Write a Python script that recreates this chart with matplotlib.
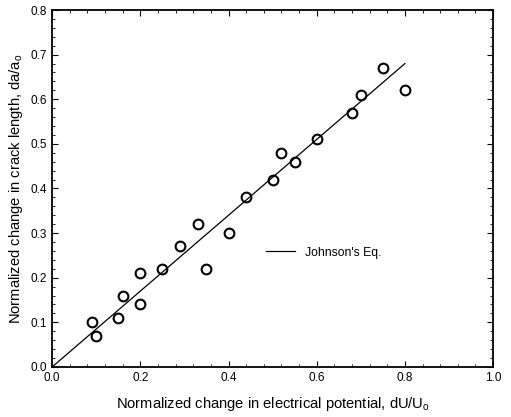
import matplotlib
matplotlib.use('Agg')
import matplotlib.pyplot as plt
from matplotlib.ticker import MultipleLocator

plt.rcParams['font.family'] = ['Liberation Sans', 'DejaVu Sans']
plt.rcParams['mathtext.fontset'] = 'custom'
plt.rcParams['mathtext.rm'] = 'Liberation Sans'

# measured points
du = [0.09, 0.10, 0.15, 0.16, 0.20, 0.20, 0.25, 0.29, 0.33, 0.35,
      0.40, 0.44, 0.50, 0.52, 0.55, 0.60, 0.68, 0.70, 0.75, 0.80]
da = [0.10, 0.07, 0.11, 0.16, 0.21, 0.14, 0.22, 0.27, 0.32, 0.22,
      0.30, 0.38, 0.42, 0.48, 0.46, 0.51, 0.57, 0.61, 0.67, 0.62]

# Johnson's equation line
eq_x = [0.0, 0.80]
eq_y = [0.0, 0.68]

fig = plt.figure(figsize=(5.11, 4.17), dpi=100)
ax = fig.add_axes([0.102, 0.12, 0.863, 0.856])

line, = ax.plot(eq_x, eq_y, color='black', lw=0.9, label="Johnson's Eq.")
ax.plot(du, da, 'o', mfc='none', mec='black', mew=1.5, ms=7)

ax.set_xlim(0, 1.0)
ax.set_ylim(0, 0.8)
ax.xaxis.set_major_locator(MultipleLocator(0.2))
ax.yaxis.set_major_locator(MultipleLocator(0.1))
ax.xaxis.set_minor_locator(MultipleLocator(0.04))
ax.yaxis.set_minor_locator(MultipleLocator(0.02))
ax.xaxis.set_major_formatter(plt.FormatStrFormatter('%.1f'))
ax.yaxis.set_major_formatter(plt.FormatStrFormatter('%.1f'))
ax.tick_params(which='both', direction='in', top=True, right=True, labelsize=8.5)
ax.tick_params(which='major', length=4)
ax.tick_params(which='minor', length=2)
for s in ax.spines.values():
    s.set_linewidth(1.3)

ax.set_xlabel('Normalized change in electrical potential, dU/U$_\\mathregular{o}$',
              fontsize=10.6, labelpad=8)
ax.set_ylabel('Normalized change in crack length, da/a$_\\mathregular{o}$', fontsize=10.6)

ax.legend(handles=[line], loc='center left', bbox_to_anchor=(0.46, 0.32),
          frameon=False, fontsize=8.8, handlelength=2.4)

fig.savefig('out.png', dpi=100)
